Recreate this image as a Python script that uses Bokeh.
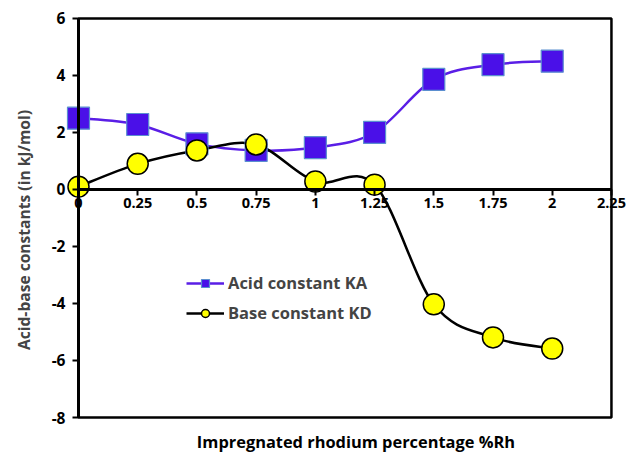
from bokeh.plotting import figure
from bokeh.models import (ColumnDataSource, LinearAxis, Range1d, FixedTicker, Legend,
                          LegendItem, Title)
from bokeh.core.properties import value
from bokeh.embed import file_html
from bokeh.resources import INLINE

x_vals = [0, 0.25, 0.5, 0.75, 1.0, 1.25, 1.5, 1.75, 2.0]
acid_ka = [2.5, 2.28, 1.6, 1.37, 1.47, 2.0, 3.86, 4.38, 4.5]
base_kd = [0.1, 0.9, 1.37, 1.58, 0.28, 0.17, -4.03, -5.19, -5.58]
x_ticks = [0, 0.25, 0.5, 0.75, 1, 1.25, 1.5, 1.75, 2, 2.25]
y_ticks = [-8, -6, -4, -2, 0, 2, 4, 6]
x_title = "Impregnated rhodium percentage %Rh"
y_title = "Acid-base constants  (in kJ/mol)"

FONT = "Open Sans"


def smooth_segments(xs, ys):
    """Catmull-Rom style bezier segments (Excel-like smoothing)."""
    n = len(xs)
    d = dict(x0=[], y0=[], x1=[], y1=[], cx0=[], cy0=[], cx1=[], cy1=[])
    for i in range(n - 1):
        ip = max(i - 1, 0)
        inn = min(i + 2, n - 1)
        d["x0"].append(xs[i]); d["y0"].append(ys[i])
        d["x1"].append(xs[i + 1]); d["y1"].append(ys[i + 1])
        d["cx0"].append(xs[i] + (xs[i + 1] - xs[ip]) / 6)
        d["cy0"].append(ys[i] + (ys[i + 1] - ys[ip]) / 6)
        d["cx1"].append(xs[i + 1] - (xs[inn] - xs[i]) / 6)
        d["cy1"].append(ys[i + 1] - (ys[inn] - ys[i]) / 6)
    return ColumnDataSource(d)


# frame is widened so the axes (drawn at x=0 / y=0) and their labels are not clipped
p = figure(width=630, height=453, output_backend="svg", toolbar_location=None,
           x_range=Range1d(-0.1857, 2.322), y_range=Range1d(-9.263, 6.56),
           x_axis_location=None, y_axis_location=None,
           min_border_left=34, min_border_right=2, min_border_top=2,
           min_border_bottom=0)
p.grid.visible = False
p.outline_line_color = None
p.background_fill_color = "white"
p.border_fill_color = "white"

# plot box
p.quad(left=[x_ticks[0]], right=[x_ticks[-1]], bottom=[y_ticks[0]], top=[y_ticks[-1]],
       fill_alpha=0, line_color="black", line_width=2.5)


def style_axis(ax, size):
    ax.axis_line_width = 3
    ax.major_tick_line_width = 2
    ax.major_tick_out = 6
    ax.major_tick_in = 0
    ax.minor_tick_line_color = None
    ax.major_label_text_font = FONT
    ax.major_label_text_font_style = "bold"
    ax.major_label_text_font_size = size
    ax.major_label_text_color = "black"


yax = LinearAxis(fixed_location=0, ticker=FixedTicker(ticks=y_ticks),
                 bounds=(y_ticks[0], y_ticks[-1]))
style_axis(yax, "15.5px")
yax.major_label_standoff = 7
yax.major_label_overrides = {t: str(t) for t in y_ticks}
p.add_layout(yax, "left")

xax = LinearAxis(fixed_location=0, ticker=FixedTicker(ticks=x_ticks),
                 bounds=(x_ticks[0], x_ticks[-1]))
style_axis(xax, "14.5px")
xax.major_label_standoff = 3
xax.major_label_overrides = {0: "0", 1: "1", 2: "2"}
p.add_layout(xax, "below")

# x axis title under the plot box
p.text(x=[(x_ticks[0] + x_ticks[-1]) / 2], y=[y_ticks[0]], text=[x_title],
       x_offset=11, y_offset=24, text_align="center", text_baseline="middle",
       text_font=value(FONT), text_font_style="bold", text_font_size="16.4px",
       text_color="black")
p.add_layout(Title(text=y_title, align="center",
                   text_font=FONT, text_font_style="bold",
                   text_font_size="15.6px", standoff=0), "left")

ka_src = ColumnDataSource(dict(x=x_vals, y=acid_ka))
kd_src = ColumnDataSource(dict(x=x_vals, y=base_kd))

ka_line = p.bezier(source=smooth_segments(x_vals, acid_ka), x0="x0", y0="y0",
                   x1="x1", y1="y1", cx0="cx0", cy0="cy0", cx1="cx1", cy1="cy1",
                   line_color="#5a1ee6", line_width=2.5)
kd_line = p.bezier(source=smooth_segments(x_vals, base_kd), x0="x0", y0="y0",
                   x1="x1", y1="y1", cx0="cx0", cy0="cy0", cx1="cx1", cy1="cy1",
                   line_color="black", line_width=2.5)
ka_pts = p.scatter("x", "y", source=ka_src, marker="square", size=22,
                   fill_color="#4a10e8", line_color="#5b8fd0", line_width=1.2)
kd_pts = p.scatter("x", "y", source=kd_src, marker="circle", size=21,
                   fill_color="#ffff00", line_color="black", line_width=1.5)

legend = Legend(items=[LegendItem(label="Acid constant KA", renderers=[ka_line, ka_pts]),
                       LegendItem(label="Base constant KD", renderers=[kd_line, kd_pts])],
                location=(152, 129), orientation="vertical",
                glyph_width=38, glyph_height=20, label_height=20, spacing=7,
                padding=0, margin=0,
                label_standoff=4, border_line_color=None, background_fill_alpha=0,
                label_text_font=FONT, label_text_font_style="bold",
                label_text_font_size="16.5px")
p.add_layout(legend, "center")

open("out.html", "w").write(file_html(p, INLINE))
